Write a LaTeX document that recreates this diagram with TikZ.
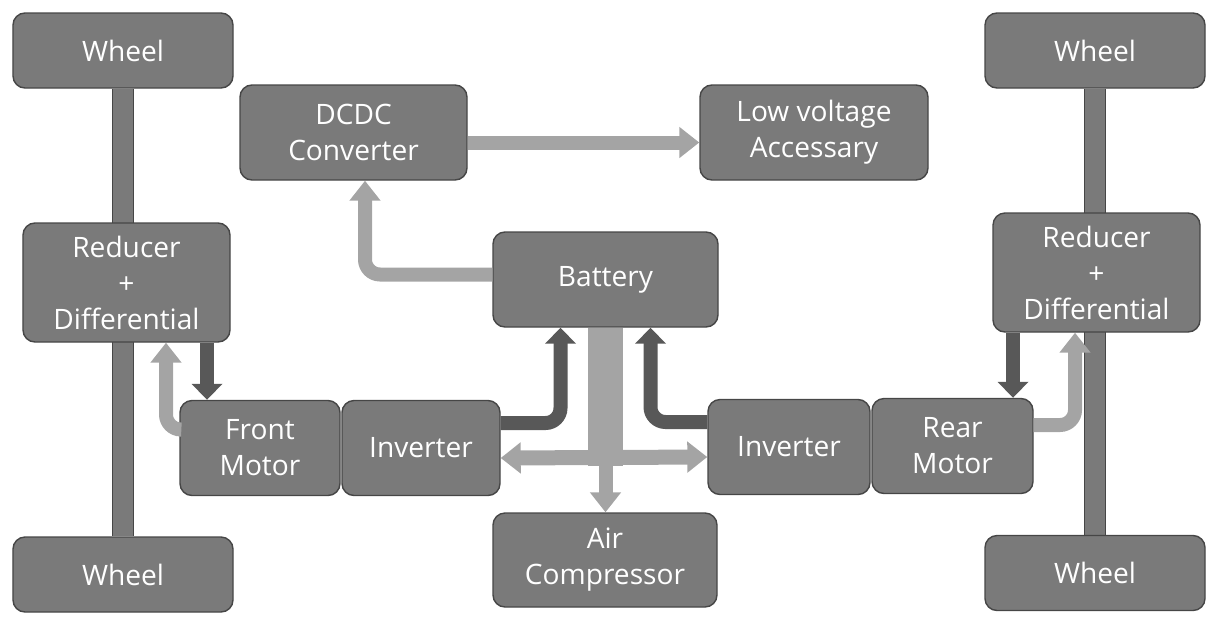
\documentclass[tikz,border=0pt]{standalone}
\usepackage{fontspec}
\setsansfont{Open Sans}
\usetikzlibrary{arrows.meta, backgrounds}
\definecolor{boxgray}{HTML}{7A7A7A}
\definecolor{edgegray}{HTML}{464646}
\definecolor{flowlight}{HTML}{A4A4A4}
\definecolor{flowdark}{HTML}{585858}
\tikzset{
  B/.style={draw=edgegray, fill=boxgray, rounded corners=2.4mm, line width=0.8pt,
    align=center, text=white, inner sep=0pt,
    font=\fontsize{16}{20.5}\selectfont\sffamily},
  la/.style={-{Triangle[length=4mm, width=6mm]}, line width=2.8mm,
    draw=flowlight, rounded corners=3mm},
  dka/.style={-{Triangle[length=3.2mm, width=6mm]}, line width=2.8mm,
    draw=flowdark, rounded corners=3mm},
  ax/.style={draw=edgegray, line width=0.6pt, double=boxgray, double distance=4mm},
}

\begin{document}
\begin{tikzpicture}[x=0.2mm, y=-0.2mm]
\useasboundingbox (0,0) rectangle (1207,618);

% wheels
\node[B, minimum width=44mm, minimum height=15mm] at (123,50.5) (wheelTL) {Wheel};
\node[B, minimum width=44mm, minimum height=15mm] at (123,574.5) (wheelBL) {Wheel};
\node[B, minimum width=44mm, minimum height=15mm] at (1095,50.5) (wheelTR) {Wheel};
\node[B, minimum width=44mm, minimum height=15mm] at (1095,573) (wheelBR) {Wheel};

% reducers
\node[B, minimum width=41.4mm, minimum height=23.8mm] at (126.5,282.5) (redL)
  {Reducer\\+\\Differential};
\node[B, minimum width=41.4mm, minimum height=23.8mm] at (1096.5,272.5) (redR)
  {Reducer\\+\\Differential};

% DC side
\node[B, minimum width=45.4mm, minimum height=19mm] at (353.5,132.5) (dcdc)
  {DCDC\\Converter};
\node[B, minimum width=45.6mm, minimum height=19mm] at (814,132.5) (low)
  {Low voltage\\Accessary};
\node[B, minimum width=45mm, minimum height=19mm] at (605.5,279.5) (bat) {Battery};
\node[B, minimum width=44.8mm, minimum height=18.8mm] at (605,560) (air)
  {Air\\Compressor};

% motors and inverters
\node[B, minimum width=32mm, minimum height=19mm] at (260,448) (fm) {Front\\Motor};
\node[B, minimum width=31.6mm, minimum height=19mm] at (421,448) (invL) {Inverter};
\node[B, minimum width=32.4mm, minimum height=19mm] at (789,447) (invR) {Inverter};
\node[B, minimum width=32.2mm, minimum height=19mm] at (952.5,446) (rm) {Rear\\Motor};

% axles and battery bus behind the boxes
\coordinate (hub) at (605.5,458);
\begin{scope}[on background layer]
  \draw[ax] (wheelTL) -- (wheelBL);
  \draw[ax] (wheelTR) -- (wheelBR);
  \draw[flowlight, line width=7mm] (bat.south) -- ([yshift=-1.5mm]hub);
\end{scope}

% low voltage branch
\draw[la] ([yshift=1mm]bat.west) -| ([xshift=2.3mm]dcdc.south);
\draw[la] ([yshift=-2mm]dcdc.east) -- ([yshift=-2mm]low.west);

% battery bus
\draw[la, {Triangle[length=4mm, width=6mm]}-{Triangle[length=4mm, width=6mm]}, line width=3mm]
  ([yshift=-2mm]invL.east) -- ([yshift=-2mm]invR.west);
\draw[la] (hub) -- (air.north -| hub);

% inverters to battery
\draw[dka] ([yshift=5mm]invL.east) -| ([xshift=-9mm]bat.south);
\draw[dka] ([yshift=5mm]invR.west) -| ([xshift=9mm]bat.south);

% front axle
\coordinate (fdn) at (207,0);
\coordinate (fup) at (166,0);
\draw[dka] (redL.south -| fdn) -- (fm.north -| fdn);
\draw[la] ([yshift=3.7mm]fm.west) -| (redL.south -| fup);

% rear axle
\coordinate (rdn) at (1013,0);
\coordinate (rup) at (1075,0);
\draw[dka] (redR.south -| rdn) -- (rm.north -| rdn);
\draw[la] ([yshift=4.2mm]rm.east) -| (redR.south -| rup);

\end{tikzpicture}
\end{document}
